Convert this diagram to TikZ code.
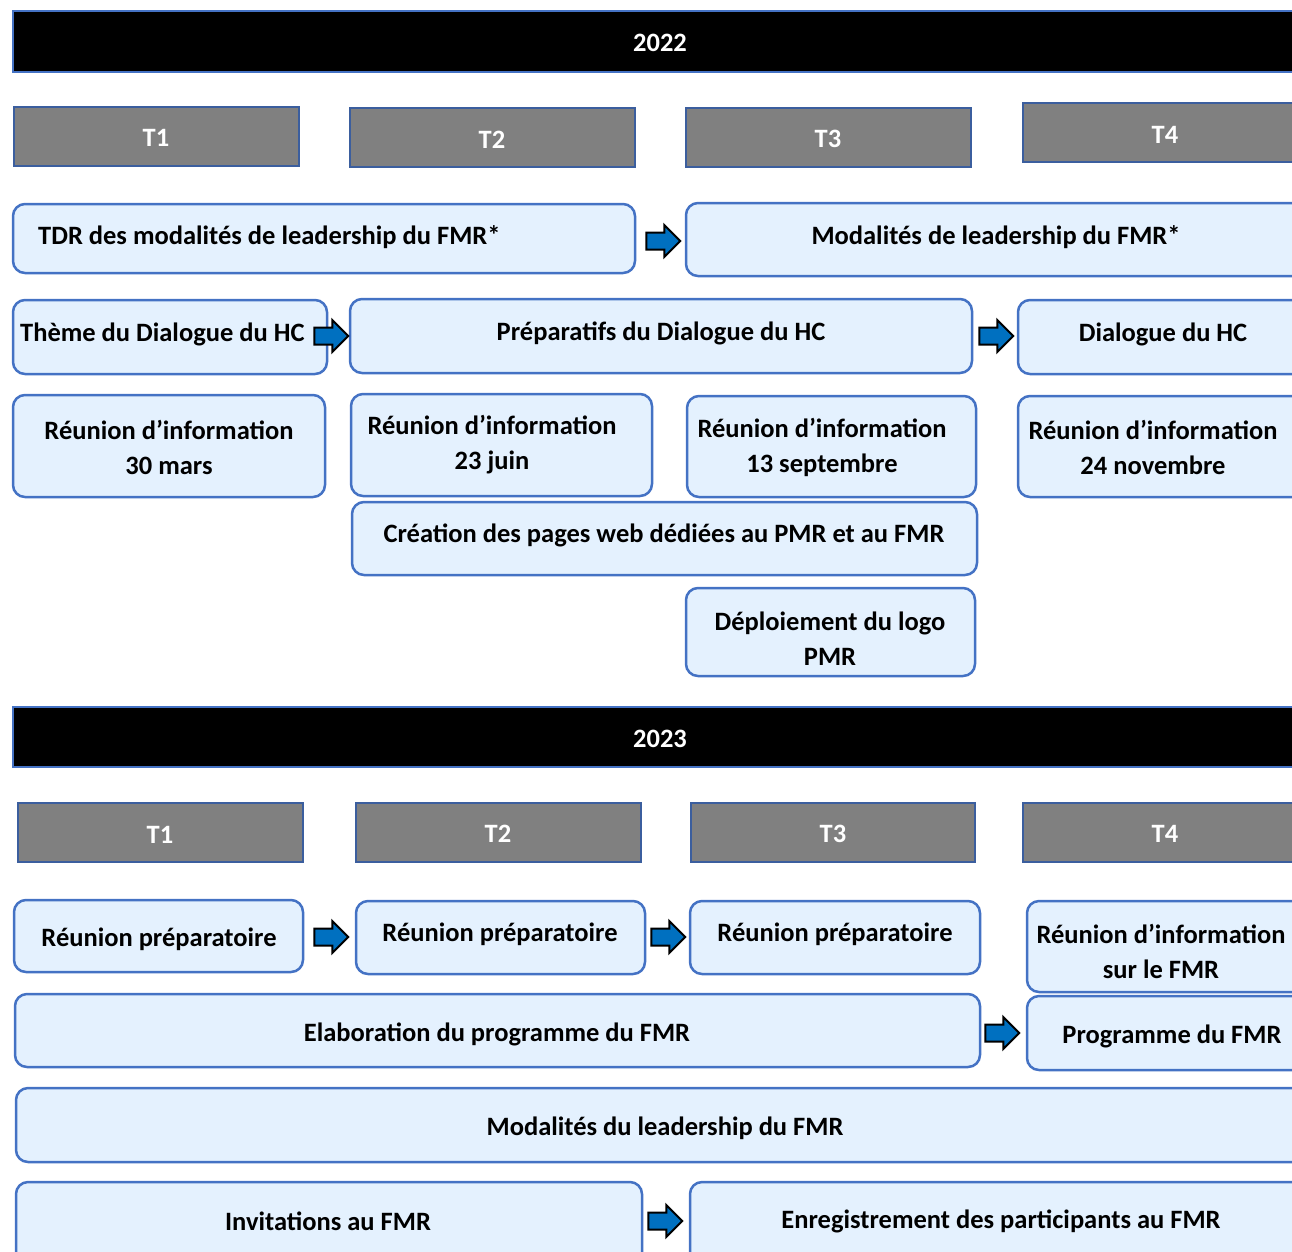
\documentclass[tikz,border=0pt]{standalone}
\usepackage{fontspec}
\setmainfont{Carlito}
\usetikzlibrary{shapes.arrows,fit}
\definecolor{bfill}{HTML}{E4F1FE}
\definecolor{bline}{HTML}{4472C4}
\definecolor{gline}{HTML}{3B5E9E}
\definecolor{afill}{HTML}{0070C0}
\definecolor{hgray}{HTML}{808080}
\tikzset{
 box/.style={draw=bline, fill=bfill, line width=2.5pt, rounded corners=12pt, inner sep=0pt},
 yearbar/.style={draw=bline, fill=black, line width=2.5pt, inner sep=0pt},
 qbar/.style={draw=gline, fill=hgray, line width=2.5pt, inner sep=0pt},
 txt/.style={font=\fontsize{26.5}{35}\selectfont\bfseries, align=center, inner sep=0pt, yshift=-2pt},
 wtxt/.style={txt, text=white},
 barrow/.style={single arrow, draw=black, fill=afill, line width=2pt, minimum height=34pt, inner xsep=0pt, inner ysep=7.5pt, single arrow head extend=7.5pt, single arrow head indent=0pt, xshift=-3pt}
}
\begin{document}
\begin{tikzpicture}[x=1pt,y=-1pt]
\useasboundingbox (0,0) rectangle (1292,1251);
\clip (0,0) rectangle (1292,1251);
% ---------- 2022 ----------
\node[yearbar, fit={(13,11)(1320,72)}] (y22) {};
\node[wtxt] (y22t) at (660,41) {2022};
\node[qbar, fit={(14,107)(299,166)}] (q1) {};
\node[wtxt] (q1t) at (156,136) {T1};
\node[qbar, fit={(350,108)(635,167)}] (q2) {};
\node[wtxt] (q2t) at (492,138) {T2};
\node[qbar, fit={(686,108)(971,167)}] (q3) {};
\node[wtxt] (q3t) at (828,137) {T3};
\node[qbar, fit={(1023,103)(1320,162)}] (q4) {};
\node[wtxt] (q4t) at (1165,133) {T4};

\node[box, fit={(13,204)(635,273)}] (b1) {};
\node[txt, anchor=west] (b1t) at (38,235) {TDR des modalités de leadership du FMR*};
\node[box, fit={(686,203)(1320,276)}] (b2) {};
\node[txt] (b2t) at (996,235) {Modalités de leadership du FMR*};
\node[barrow] (ab1) at (662,241) {};

\node[box, fit={(13,300)(327,374)}] (c1) {};
\node[txt, anchor=west] (c1t) at (20,332) {Thème du Dialogue du HC};
\node[box, fit={(350,299)(972,373)}] (c2) {};
\node[txt] (c2t) at (661,331) {Préparatifs du Dialogue du HC};
\node[box, fit={(1018,300)(1320,374)}] (c3) {};
\node[txt] (c3t) at (1163,332) {Dialogue du HC};
\node[barrow] (ac1) at (330,336) {};
\node[barrow] (ac2) at (995,336) {};

\node[box, fit={(13,395)(325,497)}] (d1) {};
\node[txt] (d1t) at (169,445) {Réunion d’information\\30 mars};
\node[box, fit={(351,394)(652,496)}] (d2) {};
\node[txt] (d2t) at (492,443) {Réunion d’information\\23 juin};
\node[box, fit={(687,396)(976,497)}] (d3) {};
\node[txt] (d3t) at (822,445) {Réunion d’information\\13 septembre};
\node[box, fit={(1018,396)(1320,497)}] (d4) {};
\node[txt] (d4t) at (1153,445) {Réunion d’information\\24 novembre};

\node[box, fit={(352,502)(977,575)}] (e1) {};
\node[txt] (e1t) at (664,533) {Création des pages web dédiées au PMR et au FMR};
\node[box, fit={(686,588)(975,676)}] (f1) {};
\node[txt] (f1t) at (830,637) {Déploiement du logo\\PMR};

% ---------- 2023 ----------
\node[yearbar, fit={(13,707)(1320,767)}] (y23) {};
\node[wtxt] (y23t) at (660,737) {2023};
\node[qbar, fit={(18,803)(303,862)}] (r1) {};
\node[wtxt] (r1t) at (160,833) {T1};
\node[qbar, fit={(356,803)(641,862)}] (r2) {};
\node[wtxt] (r2t) at (498,832) {T2};
\node[qbar, fit={(691,803)(975,862)}] (r3) {};
\node[wtxt] (r3t) at (833,832) {T3};
\node[qbar, fit={(1023,803)(1320,862)}] (r4) {};
\node[wtxt] (r4t) at (1165,832) {T4};

\node[box, fit={(14,900)(303,972)}] (g1) {};
\node[txt] (g1t) at (159,937) {Réunion préparatoire};
\node[box, fit={(356,901)(645,974)}] (g2) {};
\node[txt] (g2t) at (500,932) {Réunion préparatoire};
\node[box, fit={(690,901)(980,974)}] (g3) {};
\node[txt] (g3t) at (835,932) {Réunion préparatoire};
\node[box, fit={(1027,901)(1320,992)}] (g4) {};
\node[txt] (g4t) at (1161,949) {Réunion d’information\\sur le FMR};
\node[barrow] (ag1) at (330,937) {};
\node[barrow] (ag2) at (667,937) {};

\node[box, fit={(15,994)(980,1067)}] (h1) {};
\node[txt] (h1t) at (497,1032) {Elaboration du programme du FMR};
\node[box, fit={(1027,996)(1320,1070)}] (h2) {};
\node[txt] (h2t) at (1172,1034) {Programme du FMR};
\node[barrow] (ah1) at (1001,1033) {};

\node[box, fit={(16,1088)(1320,1162)}] (i1) {};
\node[txt] (i1t) at (665,1126) {Modalités du leadership du FMR};

\node[box, fit={(16,1182)(642,1290)}] (j1) {};
\node[txt] (j1t) at (328,1219) {Invitations au FMR};
\node[box, fit={(690,1182)(1320,1290)}] (j2) {};
\node[txt] (j2t) at (1001,1219) {Enregistrement des participants au FMR};
\node[barrow] (aj1) at (664,1221) {};
\end{tikzpicture}
\end{document}
